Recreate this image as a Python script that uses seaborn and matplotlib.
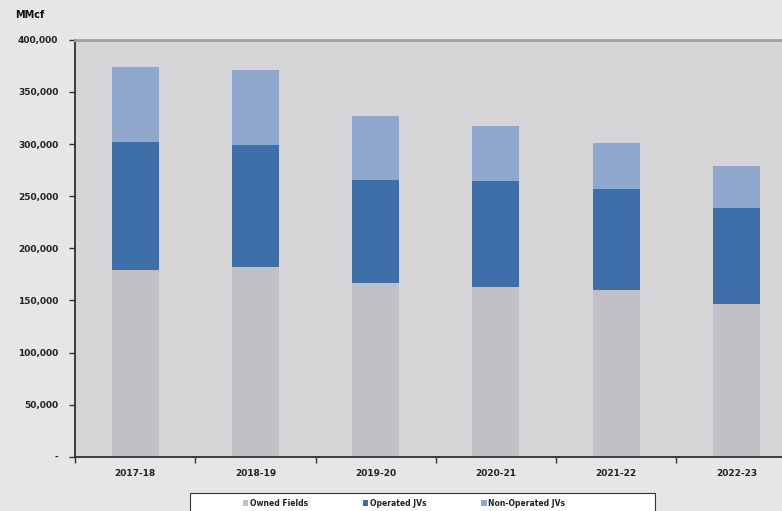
import matplotlib
matplotlib.use("Agg")
import matplotlib.pyplot as plt
from matplotlib.patches import Patch, Rectangle
from matplotlib.ticker import FuncFormatter, FixedLocator
import seaborn as sns
import pandas as pd
import numpy as np

# Gas production by source, MMcf
years = ["2017-18", "2018-19", "2019-20", "2020-21", "2021-22", "2022-23"]
owned_fields = [179000, 182000, 167000, 163000, 160000, 147000]
operated_jvs = [123000, 117000, 99000, 102000, 97000, 92000]
non_operated_jvs = [72000, 72000, 61000, 52000, 44000, 40000]

series_names = ["Owned Fields", "Operated JVs", "Non-Operated JVs"]
series_colors = ["#c1c0c6", "#3f6fa9", "#8fa6cd"]

sns.set_theme(style="white")
plt.rcParams["font.family"] = ["DejaVu Sans"]

W, H = 782, 511
fig = plt.figure(figsize=(W / 100, H / 100), dpi=100, facecolor="#e6e6e6")
ax = fig.add_axes([0.096, 0.106, 0.904, 0.816])
ax.set_facecolor("#d5d5d7")

df = pd.DataFrame({"year": years, "owned": owned_fields,
                   "operated": operated_jvs, "nonop": non_operated_jvs})
df["owned_top"] = df["owned"]
df["operated_top"] = df["owned"] + df["operated"]
df["nonop_top"] = df["operated_top"] + df["nonop"]

# Stacked bars: draw cumulative totals back to front
for col, color in zip(["nonop_top", "operated_top", "owned_top"],
                      series_colors[::-1]):
    sns.barplot(data=df, x="year", y=col, color=color, width=0.39,
                saturation=1, ax=ax, edgecolor="none", linewidth=0, zorder=2)

ax.set_xlim(-0.5, 5.38)
ax.set_ylim(0, 400000)
ax.set_xlabel("")
ax.set_ylabel("")

ax.yaxis.set_major_locator(FixedLocator(np.arange(0, 400001, 50000)))
ax.yaxis.set_major_formatter(
    FuncFormatter(lambda v, _: "-" if v == 0 else f"{int(v):,}"))
ax.xaxis.set_major_locator(FixedLocator(range(len(years))))
ax.xaxis.set_minor_locator(FixedLocator(np.arange(-0.5, len(years), 1.0)))
ax.set_xticklabels(years)

ax.tick_params(axis="x", which="major", length=0, pad=9,
               labelsize=6.5, colors="#222222")
ax.tick_params(axis="x", which="minor", length=4, width=1,
               color="#333333", direction="out", bottom=True)
ax.tick_params(axis="y", which="major", length=4, width=1, left=True,
               color="#333333", direction="out", labelsize=6.5,
               colors="#222222", pad=8)
for lbl in ax.get_xticklabels() + ax.get_yticklabels():
    lbl.set_fontweight("bold")

for side in ["left", "bottom"]:
    ax.spines[side].set_color("#303030")
    ax.spines[side].set_linewidth(1.3)
ax.spines["top"].set_color("#a0a0a0")
ax.spines["top"].set_linewidth(2)
ax.spines["right"].set_visible(False)

fig.text(0.019, 0.965, "MMcf", fontsize=7, fontweight="bold", color="#111111")

# Legend box
fig.add_artist(Rectangle((190 / W, -0.01), (655 - 190) / W, (511 - 493) / H + 0.01,
                         transform=fig.transFigure, facecolor="white",
                         edgecolor="#333333", linewidth=0.8, zorder=1))

handles = [Patch(facecolor=c, edgecolor="none", label=n)
           for n, c in zip(series_names, series_colors)]
leg = fig.legend(handles=handles, loc="center left", ncol=3,
                 bbox_to_anchor=(243 / W, (511 - 503) / H), frameon=False,
                 fontsize=5.5, handlelength=0.7, handleheight=0.7,
                 handletextpad=0.2, columnspacing=7.2, borderpad=0,
                 borderaxespad=0)
leg.set_zorder(3)
for t in leg.get_texts():
    t.set_fontweight("bold")
    t.set_color("#222222")

fig.savefig("out.png", dpi=100, facecolor=fig.get_facecolor())
